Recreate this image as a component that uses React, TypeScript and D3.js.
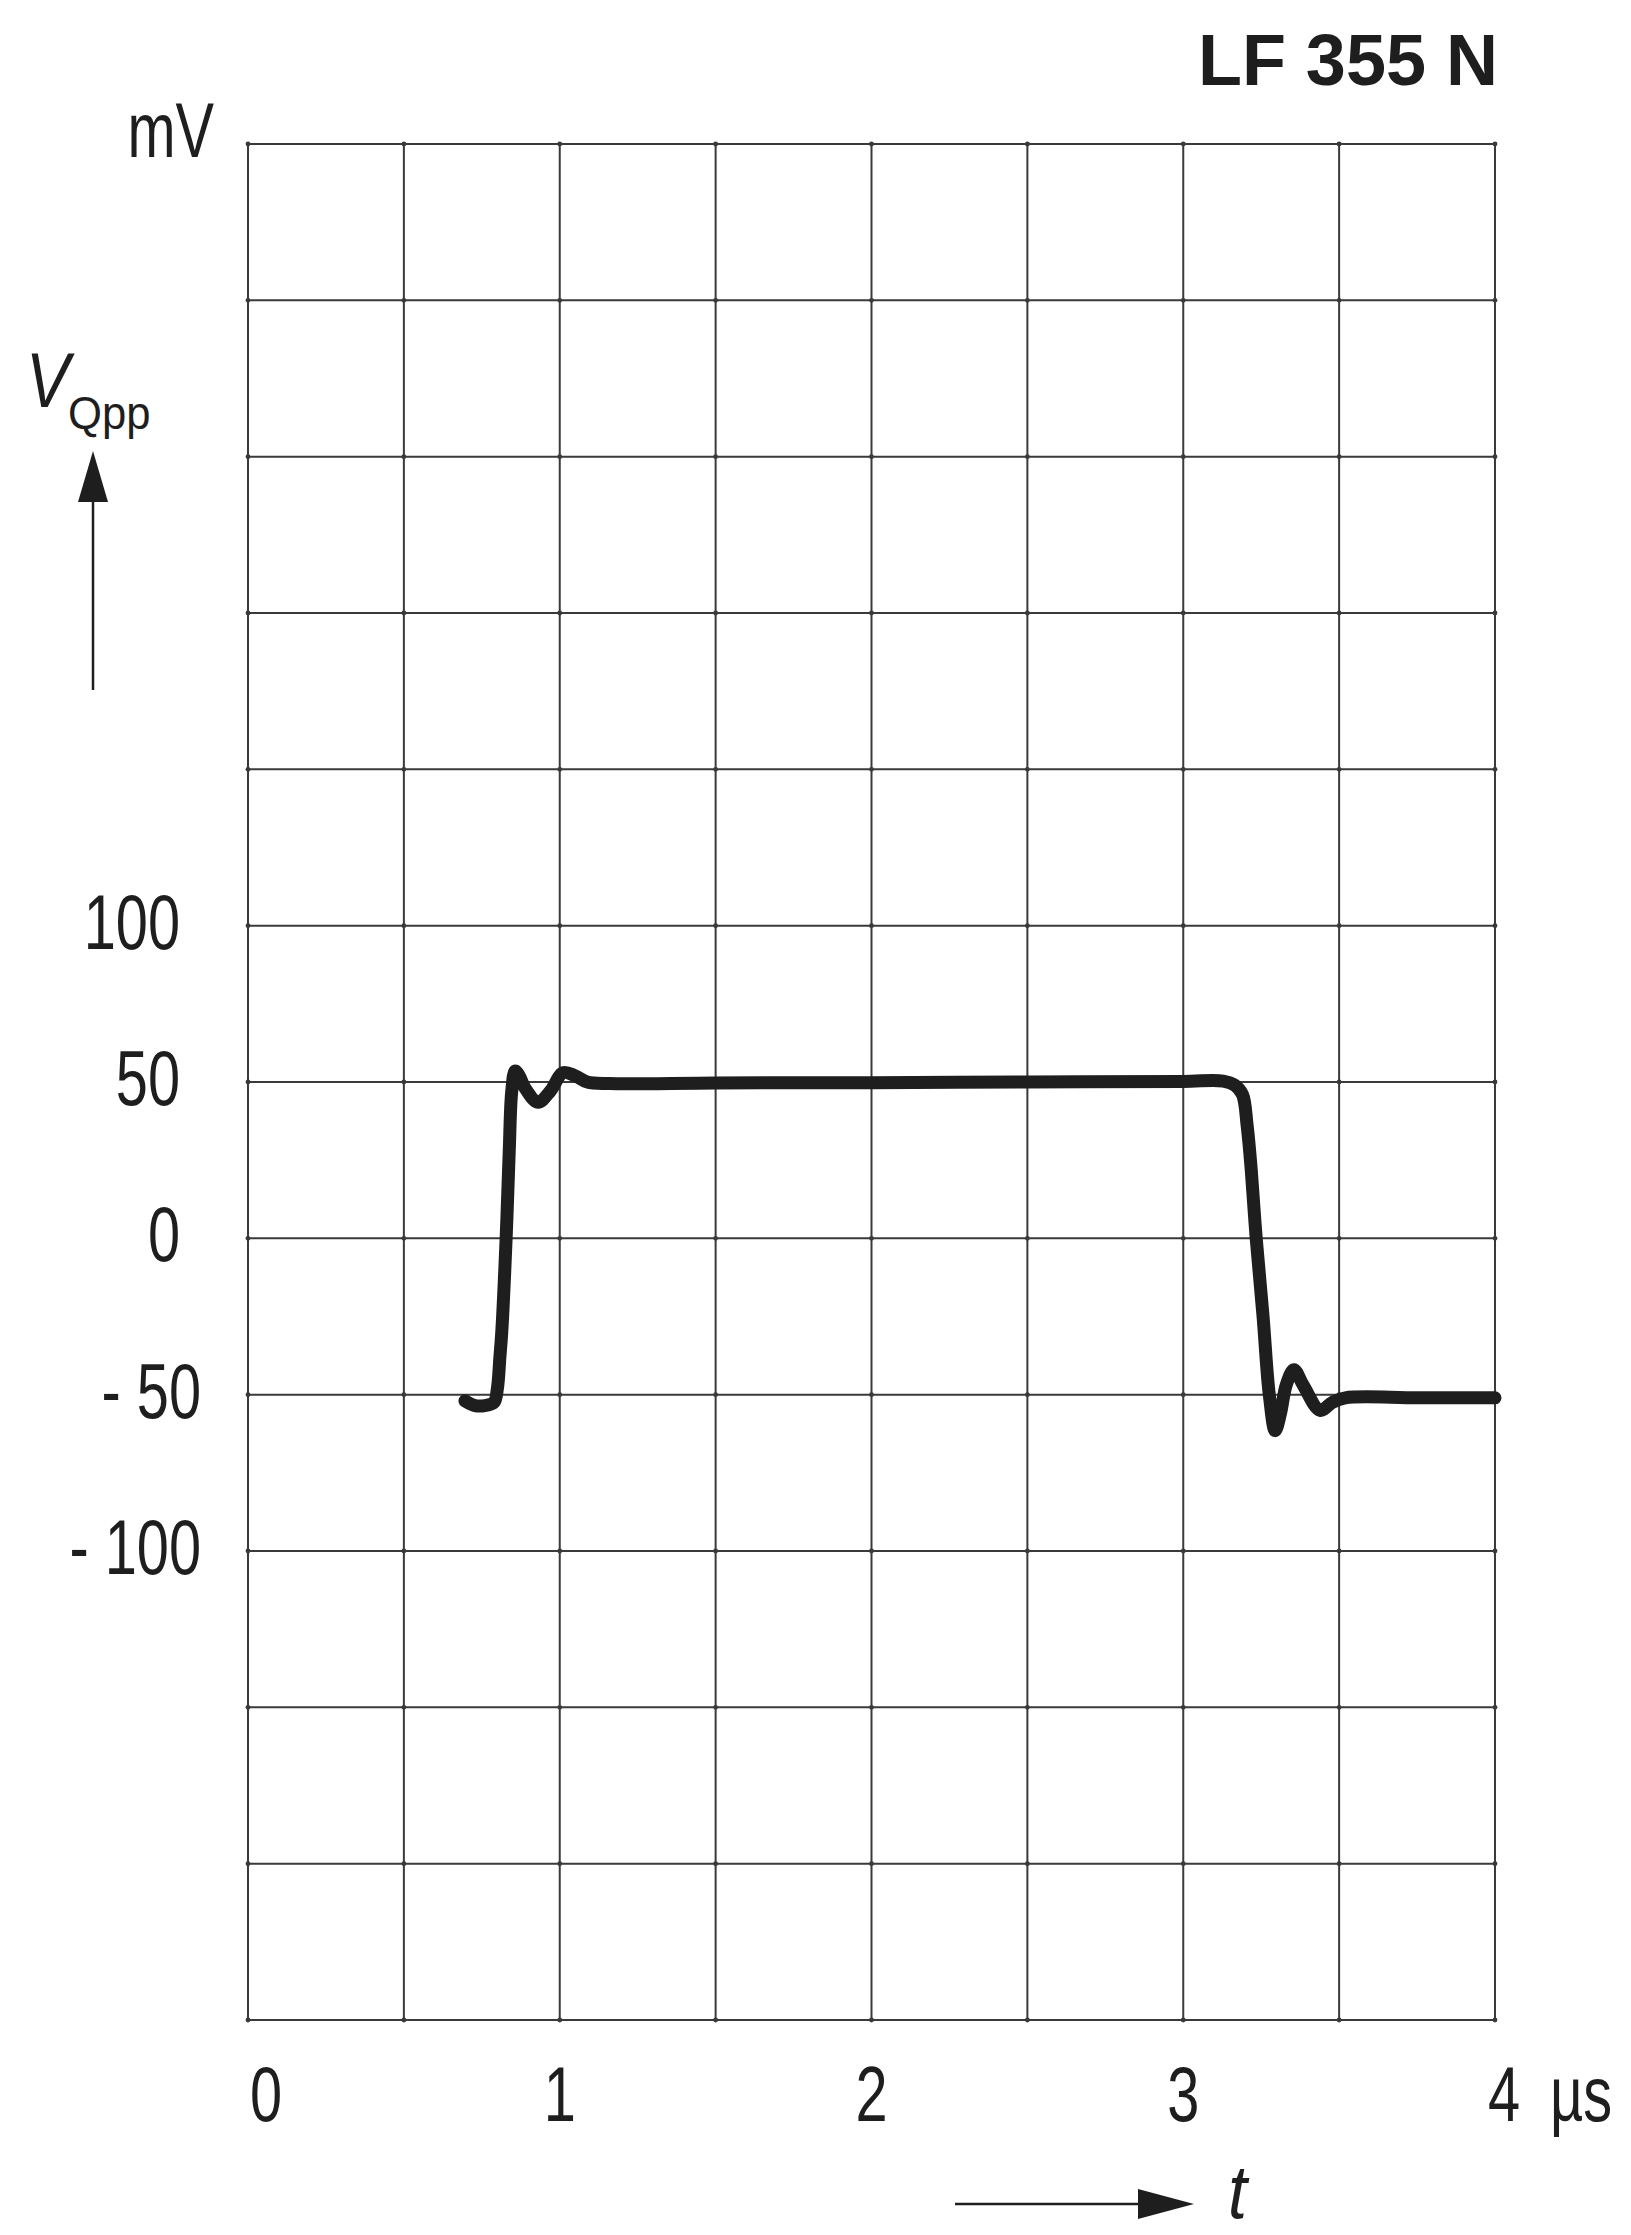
import React from "react";
import * as d3 from "d3";

// Step response trace of an LF 355 N op-amp: output voltage (mV) versus time (µs)
const traceTime = [
  0.696, 0.728, 0.760, 0.789, 0.800, 0.808, 0.814, 0.828, 0.838, 0.846, 0.857, 0.870,
  0.889, 0.930, 0.969, 1.011, 1.049, 1.088, 1.16, 1.5, 2.0, 2.5, 3.0, 3.128,
  3.165, 3.190, 3.205, 3.218, 3.234, 3.256, 3.276, 3.295, 3.312, 3.330, 3.355,
  3.385, 3.439, 3.478, 3.52, 3.75, 4.0,
];
const traceValue = [
  -52, -53.5, -53.5, -52.5, -48, -38, -30, 0, 28, 47, 53.5, 52,
  48, 43.5, 47, 53, 52, 50, 49.5, 49.7, 49.8, 50, 50.2, 50.3,
  49, 46, 36, 22, 0, -25, -50, -61.5, -56, -47, -42,
  -47, -55, -52.5, -51, -51, -51,
];

const timeTicks = [0, 1, 2, 3, 4];
const timeGrid = [0, 0.5, 1, 1.5, 2, 2.5, 3, 3.5, 4];
const voltTicks = [100, 50, 0, -50, -100];
const voltGrid = d3.range(-250, 351, 50);

const W = 1631;
const H = 2235;
const left = 248;
const right = 1495;
const top = 144;
const bottom = 2020;

const x = d3.scaleLinear().domain([0, 4]).range([left, right]);
const y = d3.scaleLinear().domain([-250, 350]).range([bottom, top]);

const ink = "#1e1e1e";
const gridInk = "#3a3a3a";
const face = "'Liberation Sans', Arial, sans-serif";

function voltLabel(v: number) {
  return v < 0 ? `- ${Math.abs(v)}` : `${v}`;
}

// Condensed lettering: a regular sans face squeezed horizontally around its anchor
function Narrow(props: {
  x: number;
  y: number;
  size: number;
  anchor?: "start" | "middle" | "end";
  italic?: boolean;
  squeeze?: number;
  children: React.ReactNode;
}) {
  const s = props.squeeze ?? 0.75;
  return (
    <text
      transform={`translate(${props.x},${props.y}) scale(${s},1)`}
      x={0}
      y={0}
      fill={ink}
      fontFamily={face}
      fontSize={props.size}
      fontStyle={props.italic ? "italic" : "normal"}
      textAnchor={props.anchor ?? "start"}
    >
      {props.children}
    </text>
  );
}

export default function App() {
  const pts: [number, number][] = traceTime.map((t, i) => [t, traceValue[i]]);
  const path = d3
    .line<[number, number]>()
    .x((d) => x(d[0]))
    .y((d) => y(d[1]))
    .curve(d3.curveCatmullRom.alpha(0.5))(pts);

  return (
    <svg
      width={W}
      height={H}
      viewBox={`0 0 ${W} ${H}`}
      style={{ position: "absolute", left: 0, top: 0, display: "block", background: "#fff" }}
    >
      <rect x={0} y={0} width={W} height={H} fill="#fff" />

      {/* grid */}
      <g stroke={gridInk} strokeWidth={2} fill="none">
        {timeGrid.map((t) => (
          <line key={`v${t}`} x1={x(t)} x2={x(t)} y1={y(350)} y2={y(-250)} />
        ))}
        {voltGrid.map((v) => (
          <line key={`h${v}`} x1={x(0)} x2={x(4)} y1={y(v)} y2={y(v)} />
        ))}
      </g>
      <g fill={gridInk}>
        {timeGrid.flatMap((t) =>
          voltGrid.map((v) => <circle key={`d${t}_${v}`} cx={x(t)} cy={y(v)} r={2.4} />)
        )}
      </g>

      {/* trace */}
      <path d={path ?? ""} fill="none" stroke={ink} strokeWidth={13} strokeLinejoin="round" strokeLinecap="round" />

      {/* y tick labels */}
      {voltTicks.map((v) => (
        <Narrow key={`yl${v}`} x={v < 0 ? x(0) - 47 : x(0) - 68} y={y(v) + 23} size={77} anchor="end">
          {voltLabel(v)}
        </Narrow>
      ))}

      {/* x tick labels */}
      {timeTicks.map((t, i) => {
        const first = i === 0;
        const last = i === timeTicks.length - 1;
        return (
          <Narrow
            key={`xl${t}`}
            x={first ? x(t) + 2 : last ? x(t) - 7 : x(t)}
            y={2121}
            size={77}
            anchor={first || last ? "start" : "middle"}
          >
            {t}
          </Narrow>
        );
      })}
      <Narrow x={x(4) + 55} y={2121} size={77}>µs</Narrow>

      {/* units and axis titles */}
      <Narrow x={214} y={157} size={77} anchor="end">mV</Narrow>
      <Narrow x={26} y={407} size={77} italic squeeze={0.85}>V</Narrow>
      <Narrow x={68} y={429} size={46} squeeze={0.95}>Qpp</Narrow>

      {/* y arrow */}
      <line x1={93} x2={93} y1={690} y2={495} stroke={ink} strokeWidth={2.5} />
      <path d="M93,451 L108,502 L78,502 Z" fill={ink} />

      {/* time arrow */}
      <line x1={955} x2={1145} y1={2204} y2={2204} stroke={ink} strokeWidth={2.5} />
      <path d="M1194,2204 L1138,2189 L1138,2219 Z" fill={ink} />
      <Narrow x={1228} y={2218} size={76} italic squeeze={0.9}>t</Narrow>

      {/* device name */}
      <text x={1498} y={85} fill={ink} fontFamily={face} fontWeight="bold" fontSize={72} textAnchor="end">
        LF 355 N
      </text>
    </svg>
  );
}
